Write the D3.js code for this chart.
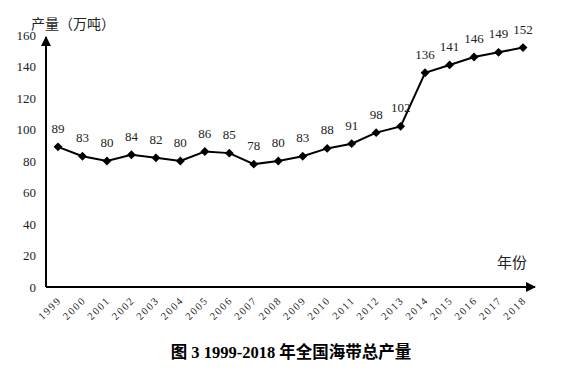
<!DOCTYPE html>
<html><head><meta charset="utf-8">
<script src="https://cdn.jsdelivr.net/npm/d3@7"></script>
<style>body{margin:0;background:#fff}svg{display:block}</style>
</head><body>
<script>
const years = ["1999","2000","2001","2002","2003","2004","2005","2006","2007","2008","2009","2010","2011","2012","2013","2014","2015","2016","2017","2018"];
const values = [89,83,80,84,82,80,86,85,78,80,83,88,91,98,102,136,141,146,149,152];
const yTicks = [0,20,40,60,80,100,120,140,160];
const yTitle = "产量（万吨）";
const xTitle = "年份";
const caption = "图 3 1999-2018 年全国海带总产量";

const W = 573, H = 371;
const svg = d3.select("body").append("svg").attr("width", W).attr("height", H);
const x = d3.scalePoint().domain(years).range([58, 523]);
const y = d3.scaleLinear().domain([0,160]).range([287, 35]);
const serif = "'Liberation Serif','DejaVu Serif',serif";
const cjk = "'Noto Sans CJK SC',sans-serif";

const defs = svg.append("defs");
defs.append("marker").attr("id","arr").attr("viewBox","0 0 10 10").attr("refX",9).attr("refY",5)
  .attr("markerWidth",12).attr("markerHeight",10).attr("markerUnits","userSpaceOnUse").attr("orient","auto")
  .append("path").attr("d","M0,0L10,5L0,10Z").attr("fill","#000");
svg.append("line").attr("x1",46).attr("y1",287).attr("x2",46).attr("y2",37).attr("stroke","#000").attr("stroke-width",2).attr("marker-end","url(#arr)");
svg.append("line").attr("x1",46).attr("y1",287).attr("x2",535).attr("y2",287).attr("stroke","#000").attr("stroke-width",2).attr("marker-end","url(#arr)");

svg.append("g").selectAll("text").data(yTicks).join("text")
  .attr("x",36).attr("y",d=>y(d)+4.5).attr("text-anchor","end")
  .attr("font-family",serif).attr("font-size",13).attr("fill","#222").text(d=>d);

svg.append("g").selectAll("text").data(years).join("text")
  .attr("transform",d=>`translate(${x(d)+4},${301}) rotate(-45)`)
  .attr("text-anchor","end").attr("font-family",serif).attr("font-size",10.5)
  .attr("letter-spacing",1.6).attr("fill","#222").text(d=>d);

svg.append("path").datum(values).attr("fill","none").attr("stroke","#000").attr("stroke-width",2)
  .attr("d", d3.line().x((d,i)=>x(years[i])).y(d=>y(d)));
svg.append("g").selectAll("path").data(values).join("path")
  .attr("transform",(d,i)=>`translate(${x(years[i])},${y(d)})`)
  .attr("d", d3.symbol(d3.symbolDiamond2, 50)).attr("fill","#000");
svg.append("g").selectAll("text").data(values).join("text")
  .attr("x",(d,i)=>x(years[i])).attr("y",d=>y(d)-14).attr("text-anchor","middle")
  .attr("font-family",serif).attr("font-size",13).attr("fill","#222").text(d=>d);

svg.append("text").attr("x",31).attr("y",29).attr("font-family",cjk).attr("font-size",14).attr("fill","#222").text(yTitle);
svg.append("text").attr("x",497).attr("y",268).attr("font-family",cjk).attr("font-size",15).attr("fill","#222").text(xTitle);
svg.append("text").attr("x",291).attr("y",358).attr("text-anchor","middle").attr("font-family","'Liberation Serif','Noto Sans CJK SC',serif")
  .attr("font-weight","bold").attr("font-size",16.5).attr("fill","#000").text(caption);
</script>
</body></html>
